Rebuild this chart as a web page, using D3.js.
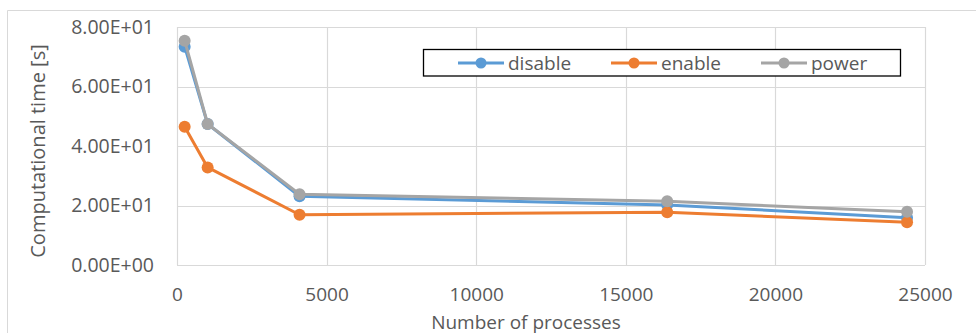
<!DOCTYPE html>
<html>
<head>
<meta charset="utf-8">
<script src="https://cdn.jsdelivr.net/npm/d3@7"></script>
<style>
  html, body { margin: 0; padding: 0; background: #fff; }
  svg { display: block; }
  text { font-family: "Open Sans", sans-serif; fill: #595959; }
</style>
</head>
<body>
<svg id="chart" width="976" height="333"></svg>
<script>
const processes = [256, 1024, 4096, 16384, 24400];
const disable = [73.4, 47.4, 23.1, 20.2, 15.9];
const enable  = [46.5, 32.8, 16.9, 17.7, 14.4];
const power   = [75.4, 47.4, 23.8, 21.4, 17.9];
const seriesNames = ["disable", "enable", "power"];
const seriesColors = ["#5B9BD5", "#ED7D31", "#A5A5A5"];
const xTicks = [0, 5000, 10000, 15000, 20000, 25000];
const yTicks = [0, 20, 40, 60, 80];

const series = [disable, enable, power];

const svg = d3.select("#chart");
const W = 976, H = 333;
const plot = { left: 177, right: 925, top: 27, bottom: 265 };
const FS = "19px";

const x = d3.scaleLinear().domain([0, 25000]).range([plot.left, plot.right]);
const y = d3.scaleLinear().domain([0, 80]).range([plot.bottom, plot.top]);

function sci(v) {
  const s = d3.format(".2e")(v);           // e.g. 8.00e+1
  const m = s.match(/^(-?[\d.]+)e([+-])(\d+)$/);
  return m[1] + "E" + m[2] + (m[3].length < 2 ? "0" + m[3] : m[3]);
}

// chart area border (only left & top visible)
svg.append("line").attr("x1", 7.5).attr("x2", 7.5).attr("y1", 10.5).attr("y2", H)
  .attr("stroke", "#D9D9D9").attr("stroke-width", 1);
svg.append("line").attr("x1", 7.5).attr("x2", W).attr("y1", 10.5).attr("y2", 10.5)
  .attr("stroke", "#D9D9D9").attr("stroke-width", 1);

// gridlines
const grid = svg.append("g");
grid.selectAll("line.h").data(yTicks).join("line")
  .attr("x1", plot.left).attr("x2", plot.right)
  .attr("y1", d => Math.round(y(d)) + 0.5).attr("y2", d => Math.round(y(d)) + 0.5)
  .attr("stroke", "#D9D9D9").attr("stroke-width", 1.2);
grid.selectAll("line.v").data(xTicks).join("line")
  .attr("y1", plot.top).attr("y2", plot.bottom)
  .attr("x1", d => Math.round(x(d)) + 0.5).attr("x2", d => Math.round(x(d)) + 0.5)
  .attr("stroke", "#D9D9D9").attr("stroke-width", 1.2);

// axes (labels only, via d3 axes)
const xAxis = svg.append("g").attr("transform", `translate(0,${plot.bottom})`)
  .call(d3.axisBottom(x).tickValues(xTicks).tickFormat(d3.format("d")).tickSize(0).tickPadding(23));
xAxis.select(".domain").remove();
xAxis.selectAll("text").style("font-size", FS).attr("fill", "#595959");

const yAxis = svg.append("g").attr("transform", `translate(${plot.left - 23},0)`)
  .call(d3.axisLeft(y).tickValues(yTicks).tickFormat(sci).tickSize(0).tickPadding(0));
yAxis.select(".domain").remove();
yAxis.selectAll("text").style("font-size", "19.5px").attr("fill", "#595959");

// axis titles
svg.append("text").attr("x", 526).attr("y", 328.5).attr("text-anchor", "middle")
  .style("font-size", FS).text("Number of processes");
svg.append("text").attr("transform", "translate(45,151) rotate(-90)").attr("text-anchor", "middle")
  .style("font-size", "20px").text("Computational time [s]");

// series
const line = d3.line().x((d, i) => x(processes[i])).y(d => y(d));
series.forEach((vals, k) => {
  const g = svg.append("g");
  g.append("path").datum(vals).attr("d", line)
    .attr("fill", "none").attr("stroke", seriesColors[k]).attr("stroke-width", 3)
    .attr("stroke-linejoin", "round");
  g.selectAll("circle").data(vals).join("circle")
    .attr("cx", (d, i) => x(processes[i])).attr("cy", d => y(d)).attr("r", 6)
    .attr("fill", seriesColors[k]);
});

// legend
const lg = svg.append("g");
lg.append("rect").attr("x", 423.5).attr("y", 49.5).attr("width", 477).attr("height", 26.5)
  .attr("fill", "#fff").attr("stroke", "#000").attr("stroke-width", 1.3);
const legendX = [458, 611, 761];
seriesNames.forEach((name, k) => {
  const lx = legendX[k], ly = 63;
  lg.append("line").attr("x1", lx).attr("x2", lx + 46).attr("y1", ly).attr("y2", ly)
    .attr("stroke", seriesColors[k]).attr("stroke-width", 3);
  lg.append("circle").attr("cx", lx + 23).attr("cy", ly).attr("r", 5.5).attr("fill", seriesColors[k]);
  lg.append("text").attr("x", lx + 50).attr("y", ly).attr("dy", "0.35em")
    .style("font-size", FS).text(name);
});
</script>
</body>
</html>
